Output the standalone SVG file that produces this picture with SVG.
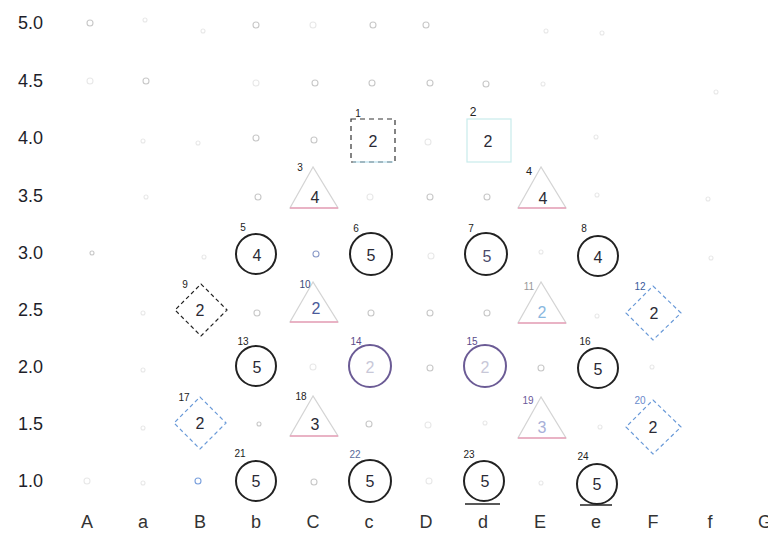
<svg xmlns="http://www.w3.org/2000/svg" width="768" height="550" viewBox="0 0 768 550">
<style>
text{font-family:"Liberation Sans",Arial,sans-serif;}
.ax{font-size:18px;fill:#1e1e2a;}
.axx{font-size:18px;fill:#333;text-anchor:middle;}
.val{font-size:16px;fill:#2a2a35;text-anchor:middle;dominant-baseline:central;}
.lab{font-size:10px;fill:#222;text-anchor:middle;}
.dot{fill:none;stroke:#c8c8c8;stroke-width:1.1;}
.dotf{fill:none;stroke:#e8e8e8;stroke-width:1.1;}
.circ{fill:none;stroke:#222;stroke-width:2;}
.circp{fill:none;stroke:#6b5b95;stroke-width:2;}
.tri{fill:none;stroke:#d4d4d4;stroke-width:1.2;}
.trib{stroke:#e8a0b8;stroke-width:1.5;}
.dia{fill:none;stroke:#222;stroke-width:1.2;stroke-dasharray:4 3;}
.diab{fill:none;stroke:#6a9ad8;stroke-width:1.2;stroke-dasharray:4 3;}
</style>
<rect width="768" height="550" fill="#fff"/>
<g id="yaxis">
<text class="ax" x="18" y="29">5.0</text>
<text class="ax" x="18" y="87">4.5</text>
<text class="ax" x="18" y="144">4.0</text>
<text class="ax" x="18" y="202">3.5</text>
<text class="ax" x="18" y="259">3.0</text>
<text class="ax" x="18" y="316">2.5</text>
<text class="ax" x="18" y="373">2.0</text>
<text class="ax" x="18" y="430">1.5</text>
<text class="ax" x="18" y="487">1.0</text>
</g>
<g id="xaxis">
<text class="axx" x="87" y="528">A</text>
<text class="axx" x="143" y="528">a</text>
<text class="axx" x="200" y="528">B</text>
<text class="axx" x="256" y="528">b</text>
<text class="axx" x="313" y="528">C</text>
<text class="axx" x="369" y="528">c</text>
<text class="axx" x="426" y="528">D</text>
<text class="axx" x="483" y="528">d</text>
<text class="axx" x="540" y="528">E</text>
<text class="axx" x="596" y="528">e</text>
<text class="axx" x="653" y="528">F</text>
<text class="axx" x="710" y="528">f</text>
<text class="axx" x="765" y="528">G</text>
</g>
<g id="dots">
<circle class="dot" cx="90" cy="23" r="3"/><circle class="dotf" cx="145" cy="20" r="2"/><circle class="dotf" cx="203" cy="31" r="2"/><circle class="dot" cx="256" cy="25" r="3"/><circle class="dotf" cx="313" cy="25" r="3"/><circle class="dot" cx="373" cy="25" r="3"/><circle class="dot" cx="426" cy="25" r="3"/><circle class="dotf" cx="546" cy="31" r="2"/><circle class="dotf" cx="602" cy="33" r="2"/>
<circle class="dotf" cx="90" cy="81" r="3"/><circle class="dot" cx="146" cy="81" r="3"/><circle class="dotf" cx="256" cy="83" r="3"/><circle class="dot" cx="315" cy="83" r="3"/><circle class="dot" cx="372" cy="83" r="3"/><circle class="dot" cx="430" cy="83" r="3"/><circle class="dot" cx="486" cy="84" r="3"/><circle class="dotf" cx="543" cy="84" r="2"/><circle class="dotf" cx="716" cy="92" r="2"/>
<circle class="dotf" cx="143" cy="141" r="2"/><circle class="dotf" cx="198" cy="143" r="2"/><circle class="dot" cx="256" cy="138" r="3"/><circle class="dot" cx="314" cy="140" r="3"/><circle class="dotf" cx="428" cy="142" r="3"/><circle class="dotf" cx="596" cy="137" r="2"/>
<circle class="dotf" cx="146" cy="197" r="2"/><circle class="dot" cx="258" cy="197" r="3"/><circle class="dotf" cx="370" cy="197" r="3"/><circle class="dot" cx="430" cy="197" r="3"/><circle class="dot" cx="487" cy="197" r="3"/><circle class="dotf" cx="597" cy="195" r="2"/><circle class="dotf" cx="708" cy="199" r="2"/>
<circle class="dot" cx="92" cy="253" r="2"/><circle class="dotf" cx="204" cy="257" r="2"/><circle class="dot" cx="316" cy="254" r="3" style="stroke:#8a9ac8"/><circle class="dotf" cx="431" cy="256" r="3"/><circle class="dotf" cx="541" cy="252" r="2"/><circle class="dotf" cx="711" cy="258" r="2"/>
<circle class="dotf" cx="143" cy="313" r="2"/><circle class="dot" cx="257" cy="313" r="3"/><circle class="dot" cx="371" cy="313" r="3"/><circle class="dot" cx="430" cy="313" r="3"/><circle class="dot" cx="487" cy="313" r="3"/><circle class="dotf" cx="597" cy="316" r="2"/>
<circle class="dotf" cx="143" cy="370" r="2"/><circle class="dotf" cx="313" cy="367" r="3"/><circle class="dot" cx="430" cy="368" r="3"/><circle class="dot" cx="541" cy="368" r="3"/><circle class="dotf" cx="652" cy="367" r="2"/>
<circle class="dotf" cx="143" cy="428" r="2"/><circle class="dot" cx="259" cy="424" r="2"/><circle class="dot" cx="369" cy="424" r="3"/><circle class="dotf" cx="428" cy="425" r="3"/><circle class="dotf" cx="485" cy="423" r="2"/><circle class="dotf" cx="600" cy="427" r="2"/>
<circle class="dotf" cx="87" cy="481" r="3"/><circle class="dotf" cx="143" cy="483" r="2"/><circle class="dot" cx="198" cy="481" r="3" style="stroke:#7aa0dd"/><circle class="dot" cx="314" cy="482" r="3"/><circle class="dotf" cx="429" cy="481" r="3"/><circle class="dotf" cx="541" cy="483" r="2"/>
</g>
<g id="connectors"></g>
<g id="n1"><rect x="351" y="119" width="44" height="43" fill="none" stroke="#333" stroke-width="1.2" stroke-dasharray="5 4"/><line x1="353" y1="162" x2="393" y2="162" stroke="#a8d8ea" stroke-width="1.2"/><text class="lab" x="358" y="117">1</text><text class="val" x="373" y="141">2</text></g>
<g id="n2"><rect x="467" y="119" width="44" height="43" fill="none" stroke="#c8ecec" stroke-width="1.2"/><text class="lab" x="473" y="116" style="font-size:12px">2</text><text class="val" x="488" y="141">2</text></g>
<g id="n3"><path class="tri" d="M313,167 L290,208 L338,208 Z"/><line class="trib" x1="290" y1="208" x2="338" y2="208"/><text class="lab" x="300" y="171">3</text><text class="val" x="315" y="197">4</text></g>
<g id="n4"><path class="tri" d="M541,167 L518,208 L566,208 Z"/><line class="trib" x1="518" y1="208" x2="566" y2="208"/><text class="lab" x="529" y="175" style="font-size:11px">4</text><text class="val" x="543" y="198">4</text></g>
<g id="n5"><circle class="circ" cx="256" cy="254" r="20"/><text class="lab" x="243" y="231">5</text><text class="val" x="257" y="255">4</text></g>
<g id="n6"><circle class="circ" cx="371" cy="254" r="21"/><text class="lab" x="356" y="232">6</text><text class="val" x="371" y="255">5</text></g>
<g id="n7"><circle class="circ" cx="486" cy="254" r="21"/><text class="lab" x="471" y="232">7</text><text class="val" x="487" y="256" style="fill:#4a4a6a">5</text></g>
<g id="n8"><circle class="circ" cx="598" cy="256" r="20"/><text class="lab" x="584" y="232">8</text><text class="val" x="598" y="257">4</text></g>
<g id="n9"><path class="dia" d="M201,284 L227,310 L201,336 L175,310 Z"/><text class="lab" x="185" y="288">9</text><text class="val" x="200" y="310">2</text></g>
<g id="n10"><path class="tri" d="M313,282 L290,322 L338,322 Z"/><line class="trib" x1="290" y1="322" x2="338" y2="322"/><text class="lab" x="305" y="288" style="fill:#3a4a7a">10</text><text class="val" x="316" y="308" style="fill:#4a5a9a">2</text></g>
<g id="n11"><path class="tri" d="M541,282 L518,323 L566,323 Z"/><line class="trib" x1="518" y1="323" x2="566" y2="323"/><text class="lab" x="529" y="290" style="fill:#999">11</text><text class="val" x="542" y="312" style="fill:#8ab8e0">2</text></g>
<g id="n12"><path class="diab" d="M653,286 L681,313 L653,340 L626,313 Z"/><text class="lab" x="640" y="290" style="fill:#3a5a9a">12</text><text class="val" x="654" y="313">2</text></g>
<g id="n13"><circle class="circ" cx="256" cy="366" r="20"/><text class="lab" x="243" y="345">13</text><text class="val" x="257" y="367">5</text></g>
<g id="n14"><circle class="circp" cx="370" cy="366" r="21"/><text class="lab" x="356" y="345" style="fill:#5a4a8a">14</text><text class="val" x="370" y="367" style="fill:#c8c8d8">2</text></g>
<g id="n15"><circle class="circp" cx="485" cy="366" r="21"/><text class="lab" x="472" y="345" style="fill:#5a4a8a">15</text><text class="val" x="485" y="367" style="fill:#c8c8d8">2</text></g>
<g id="n16"><circle class="circ" cx="598" cy="368" r="20"/><text class="lab" x="585" y="345">16</text><text class="val" x="598" y="369">5</text></g>
<g id="n17"><path class="diab" d="M200,397 L226,423 L200,449 L174,423 Z"/><text class="lab" x="184" y="401">17</text><text class="val" x="200" y="423">2</text></g>
<g id="n18"><path class="tri" d="M313,396 L290,436 L338,436 Z"/><line class="trib" x1="290" y1="436" x2="338" y2="436"/><text class="lab" x="301" y="400">18</text><text class="val" x="315" y="424">3</text></g>
<g id="n19"><path class="tri" d="M541,397 L518,438 L566,438 Z"/><line class="trib" x1="518" y1="438" x2="566" y2="438"/><text class="lab" x="528" y="404" style="fill:#6a5a9a">19</text><text class="val" x="542" y="427" style="fill:#a8b0d8">3</text></g>
<g id="n20"><path class="diab" d="M653,400 L681,427 L653,454 L626,427 Z"/><text class="lab" x="640" y="404" style="fill:#6a8acb">20</text><text class="val" x="653" y="427">2</text></g>
<g id="n21"><circle class="circ" cx="256" cy="481" r="20"/><text class="lab" x="240" y="457">21</text><text class="val" x="256" y="481">5</text></g>
<g id="n22"><circle class="circ" cx="370" cy="481" r="21"/><text class="lab" x="355" y="458" style="fill:#5a6a9a">22</text><text class="val" x="370" y="481">5</text></g>
<g id="n23"><circle class="circ" cx="484" cy="481" r="20"/><line x1="465" y1="504" x2="500" y2="504" stroke="#222" stroke-width="1.5"/><text class="lab" x="469" y="458">23</text><text class="val" x="485" y="481">5</text></g>
<g id="n24"><circle class="circ" cx="597" cy="484" r="20"/><line x1="580" y1="505" x2="612" y2="505" stroke="#222" stroke-width="1.5"/><text class="lab" x="583" y="460">24</text><text class="val" x="597" y="484">5</text></g>
</svg>
